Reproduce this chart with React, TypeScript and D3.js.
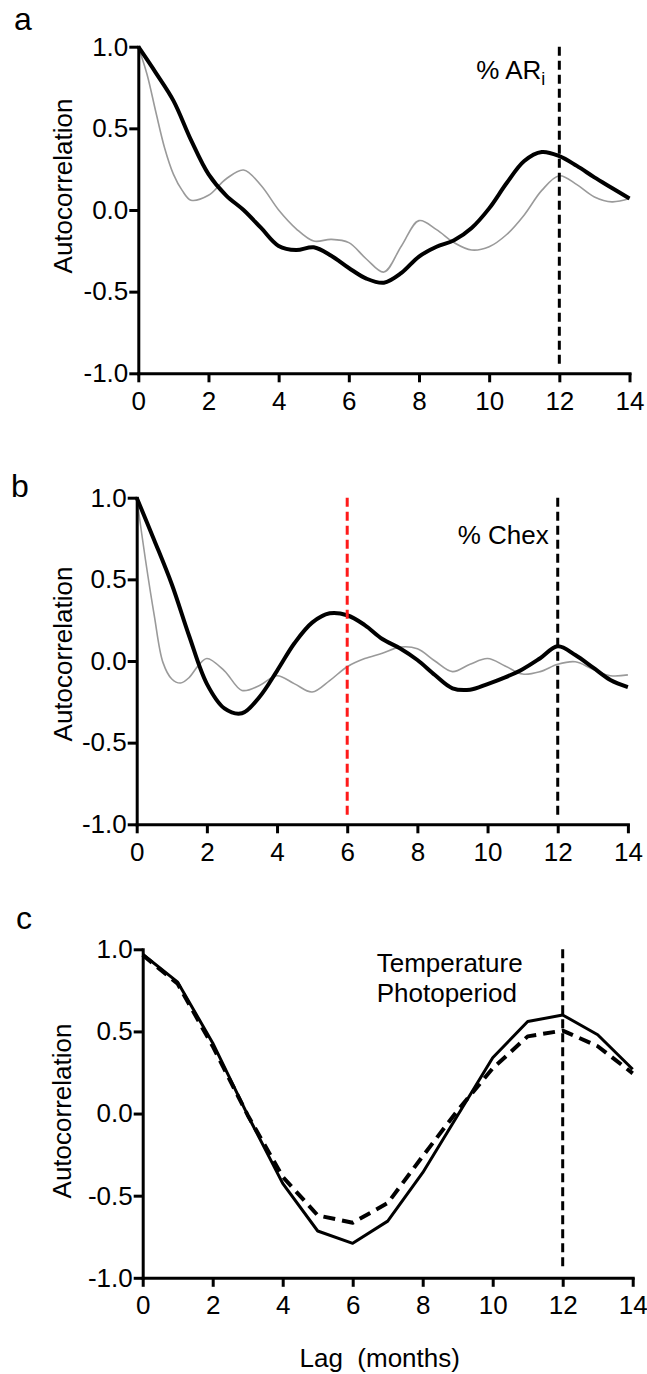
import { useEffect, useRef } from "react";
import * as d3 from "d3";

const W = 647;
const H = 1374;
const FONT = "'Liberation Sans', Arial, sans-serif";

const X_TICKS = [0, 2, 4, 6, 8, 10, 12, 14];
const Y_TICKS = [-1, -0.5, 0, 0.5, 1];

// half-month lags used by the smoothed series
const LAGS = [
  0, 0.5, 1, 1.5, 2, 2.5, 3, 3.5, 4, 4.5, 5, 5.5, 6, 6.5, 7, 7.5, 8, 8.5, 9,
  9.5, 10, 10.5, 11, 11.5, 12, 12.5, 13, 13.5, 14,
];

// panel a: % ARi
const AR_BLACK = [
  1.0, 0.84, 0.67, 0.43, 0.22, 0.09, 0.0, -0.11, -0.22, -0.245, -0.228, -0.28,
  -0.355, -0.42, -0.445, -0.385, -0.285, -0.225, -0.185, -0.11, 0.01, 0.165,
  0.3, 0.355, 0.33, 0.27, 0.2, 0.135, 0.07,
];
const AR_GRAY_LAGS = [
  0, 0.25, 0.5, 0.75, 1, 1.25, 1.5, 2, 2.5, 3, 3.5, 4, 4.5, 5, 5.5, 6, 6.5, 7,
  7.5, 8, 8.5, 9, 9.5, 10, 10.5, 11, 11.5, 12, 12.5, 13, 13.5, 14,
];
const AR_GRAY = [
  1.0, 0.83, 0.6, 0.38, 0.22, 0.12, 0.06, 0.09, 0.19, 0.245, 0.15, 0.0, -0.115,
  -0.19, -0.18, -0.2, -0.3, -0.38, -0.22, -0.065, -0.12, -0.2, -0.245, -0.225,
  -0.15, -0.03, 0.12, 0.21, 0.155, 0.08, 0.05, 0.07,
];

// panel b: % Chex
const CHEX_BLACK = [
  1.0, 0.74, 0.47, 0.15, -0.14, -0.29, -0.32, -0.22, -0.06, 0.11, 0.235, 0.292,
  0.28, 0.22, 0.135, 0.078, 0.006, -0.086, -0.167, -0.176, -0.141, -0.1, -0.05,
  0.017, 0.09, 0.037, -0.039, -0.116, -0.16,
];
const CHEX_GRAY_LAGS = [
  0, 0.25, 0.5, 0.75, 1, 1.25, 1.5, 1.75, 2, 2.5, 3, 3.5, 4, 4.5, 5, 5.5, 6,
  6.5, 7, 7.5, 8, 8.5, 9, 9.5, 10, 10.5, 11, 11.5, 12, 12.5, 13, 13.5, 14,
];
const CHEX_GRAY = [
  1.0, 0.62, 0.28, -0.01, -0.11, -0.135, -0.1, -0.03, 0.015, -0.06, -0.18,
  -0.15, -0.09, -0.14, -0.19, -0.12, -0.035, 0.015, 0.047, 0.085, 0.075, 0.0,
  -0.065, -0.02, 0.015, -0.03, -0.08, -0.065, -0.02, -0.005, -0.05, -0.09,
  -0.085,
];

// panel c: monthly environment series
const MONTHS = [0, 1, 2, 3, 4, 5, 6, 7, 8, 9, 10, 11, 12, 13, 14];
const TEMPERATURE = [
  0.97, 0.8, 0.43, -0.01, -0.425, -0.715, -0.79, -0.655, -0.36, -0.01, 0.34,
  0.56, 0.6, 0.48, 0.27,
];
const PHOTOPERIOD = [
  0.965, 0.79, 0.41, -0.01, -0.385, -0.62, -0.665, -0.545, -0.26, 0.02, 0.275,
  0.47, 0.505, 0.41, 0.245,
];

type Series = {
  lags: number[];
  values: number[];
  stroke: string;
  width: number;
  dash?: string;
  smooth: boolean;
};

type Layout = {
  left: number;
  right: number;
  top: number;
  bottom: number;
  letter: string;
  letterX: number;
  letterY: number;
  labelX: number;
  labelY: number;
};

type Scales = {
  x: d3.ScaleLinear<number, number>;
  y: d3.ScaleLinear<number, number>;
};

function Panel({
  layout,
  series,
  vlines,
  annotate,
}: {
  layout: Layout;
  series: Series[];
  vlines: { lag: number; color: string }[];
  annotate: (s: Scales) => React.ReactNode;
}) {
  const xAxisRef = useRef<SVGGElement>(null);
  const yAxisRef = useRef<SVGGElement>(null);

  const x = d3.scaleLinear().domain([0, 14]).range([layout.left, layout.right]);
  const y = d3.scaleLinear().domain([-1, 1]).range([layout.bottom, layout.top]);

  useEffect(() => {
    if (!xAxisRef.current || !yAxisRef.current) return;
    const gx = d3.select(xAxisRef.current);
    gx.selectAll("*").remove();
    gx.call(
      d3
        .axisBottom(x)
        .tickValues(X_TICKS)
        .tickFormat((d) => String(d))
        .tickSize(9)
        .tickSizeOuter(0)
        .tickPadding(9),
    );
    const gy = d3.select(yAxisRef.current);
    gy.selectAll("*").remove();
    gy.call(
      d3
        .axisLeft(y)
        .tickValues(Y_TICKS)
        .tickFormat((d) => (+d).toFixed(1))
        .tickSize(9)
        .tickSizeOuter(0)
        .tickPadding(1),
    );
    for (const g of [gx, gy]) {
      g.attr("font-size", 26).attr("font-family", FONT);
      g.selectAll("line").attr("stroke", "#000").attr("stroke-width", 3);
      g.select(".domain")
        .attr("stroke", "#000")
        .attr("stroke-width", 3)
        .attr("stroke-linecap", "square");
      g.selectAll("text").attr("fill", "#000");
    }
  }, []);

  return (
    <g>
      <text
        x={layout.letterX}
        y={layout.letterY}
        fontSize={32}
        fontFamily={FONT}
      >
        {layout.letter}
      </text>
      <text
        transform={`translate(${layout.labelX},${layout.labelY}) rotate(-90)`}
        textAnchor="middle"
        fontSize={26}
        fontFamily={FONT}
      >
        Autocorrelation
      </text>

      {series.map((s, i) => {
        const line = d3
          .line<number>()
          .x((_, j) => x(s.lags[j]))
          .y((v) => y(v))
          .curve(s.smooth ? d3.curveCatmullRom.alpha(0.5) : d3.curveLinear);
        return (
          <path
            key={i}
            d={line(s.values) ?? ""}
            fill="none"
            stroke={s.stroke}
            strokeWidth={s.width}
            strokeDasharray={s.dash}
            strokeLinejoin="round"
          />
        );
      })}

      {vlines.map((v) => (
        <line
          key={v.lag}
          x1={x(v.lag)}
          x2={x(v.lag)}
          y1={y(1)}
          y2={y(-1) - 7}
          stroke={v.color}
          strokeWidth={3}
          strokeDasharray="9,5"
        />
      ))}

      <g ref={yAxisRef} transform={`translate(${layout.left},0)`} />
      <g ref={xAxisRef} transform={`translate(0,${layout.bottom})`} />

      {annotate({ x, y })}
    </g>
  );
}

const LAYOUT_A: Layout = {
  left: 138.3,
  right: 629.5,
  top: 46.7,
  bottom: 373.3,
  letter: "a",
  letterX: 14,
  letterY: 30,
  labelX: 72,
  labelY: 186,
};
const LAYOUT_B: Layout = {
  left: 136.7,
  right: 627.9,
  top: 497.7,
  bottom: 824.3,
  letter: "b",
  letterX: 11,
  letterY: 497,
  labelX: 72,
  labelY: 654,
};
const LAYOUT_C: Layout = {
  left: 142.7,
  right: 632.7,
  top: 949.3,
  bottom: 1277.8,
  letter: "c",
  letterX: 16,
  letterY: 929,
  labelX: 71,
  labelY: 1111,
};

export default function App() {
  return (
    <svg
      width={W}
      height={H}
      viewBox={`0 0 ${W} ${H}`}
      style={{ position: "absolute", left: 0, top: 0, background: "#fff" }}
    >
      <rect width={W} height={H} fill="#fff" />
      <Panel
        layout={LAYOUT_A}
        series={[
          {
            lags: AR_GRAY_LAGS,
            values: AR_GRAY,
            stroke: "#9a9a9a",
            width: 1.6,
            smooth: true,
          },
          {
            lags: LAGS,
            values: AR_BLACK,
            stroke: "#000",
            width: 4,
            smooth: true,
          },
        ]}
        vlines={[{ lag: 12, color: "#000" }]}
        annotate={({ x, y }) => (
          <text
            x={x(12) - 14}
            y={y(0.8)}
            textAnchor="end"
            fontSize={26}
            fontFamily={FONT}
          >
            % AR
            <tspan fontSize={18} dy={6}>
              i
            </tspan>
          </text>
        )}
      />
      <Panel
        layout={LAYOUT_B}
        series={[
          {
            lags: CHEX_GRAY_LAGS,
            values: CHEX_GRAY,
            stroke: "#9a9a9a",
            width: 1.6,
            smooth: true,
          },
          {
            lags: LAGS,
            values: CHEX_BLACK,
            stroke: "#000",
            width: 4,
            smooth: true,
          },
        ]}
        vlines={[
          { lag: 6, color: "#ff1a1a" },
          { lag: 12, color: "#000" },
        ]}
        annotate={({ x, y }) => (
          <text
            x={x(12) - 9}
            y={y(0.716)}
            textAnchor="end"
            fontSize={26}
            fontFamily={FONT}
          >
            % Chex
          </text>
        )}
      />
      <Panel
        layout={LAYOUT_C}
        series={[
          {
            lags: MONTHS,
            values: TEMPERATURE,
            stroke: "#000",
            width: 3,
            smooth: false,
          },
          {
            lags: MONTHS,
            values: PHOTOPERIOD,
            stroke: "#000",
            width: 4,
            dash: "12,7",
            smooth: false,
          },
        ]}
        vlines={[{ lag: 12, color: "#000" }]}
        annotate={({ x, y }) => (
          <g fontSize={26} fontFamily={FONT}>
            <text x={x(12) - 186} y={y(0.86)}>
              Temperature
            </text>
            <text x={x(12) - 186} y={y(0.677)}>
              Photoperiod
            </text>
            <text
              x={(x(0) + x(14)) / 2 - 8}
              y={y(-1) + 89}
              textAnchor="middle"
            >
              Lag{"\u00a0\u00a0"}(months)
            </text>
          </g>
        )}
      />
    </svg>
  );
}
